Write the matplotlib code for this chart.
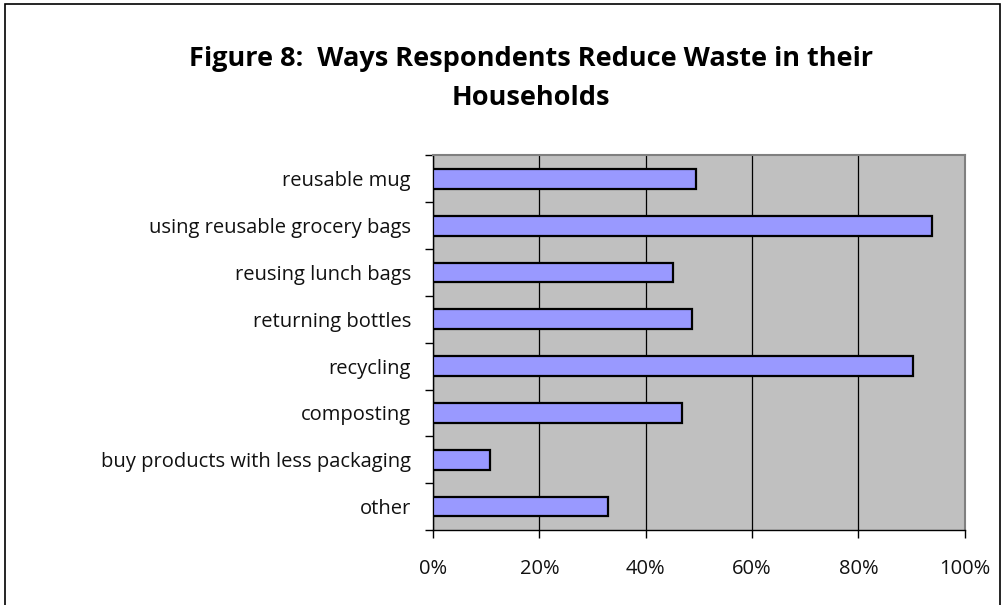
import matplotlib.pyplot as plt
from matplotlib.patches import Rectangle
from matplotlib.ticker import FixedLocator, PercentFormatter

categories = [
    "reusable mug",
    "using reusable grocery bags",
    "reusing lunch bags",
    "returning bottles",
    "recycling",
    "composting",
    "buy products with less packaging",
    "other",
]
shares = [0.495, 0.938, 0.452, 0.487, 0.902, 0.468, 0.107, 0.329]
x_ticks = [0, 0.2, 0.4, 0.6, 0.8, 1.0]

plt.rcParams['font.family'] = ['Open Sans', 'DejaVu Sans']

fig = plt.figure(figsize=(10.05, 6.05), dpi=100)
# outer chart border
fig.add_artist(Rectangle((0.005, -0.01), 0.99, 1.003, transform=fig.transFigure,
                         fill=False, edgecolor='black', linewidth=1.2))

ax = fig.add_axes([0.431, 0.124, 0.529, 0.619])
ax.set_facecolor('#C0C0C0')

pos = list(range(len(categories)))
ax.barh(pos, shares, height=0.42, color='#9999FF', edgecolor='black', linewidth=1.6, zorder=3)

ax.set_xlim(0, 1)
ax.set_ylim(len(categories) - 0.5, -0.5)
ax.set_xticks(x_ticks)
ax.xaxis.set_major_formatter(PercentFormatter(1.0, decimals=0))
ax.grid(axis='x', color='black', linewidth=0.9, zorder=1)

# category labels at centres, tick marks at the boundaries
ax.set_yticks(pos)
ax.set_yticklabels(categories)
ax.tick_params(axis='y', length=0, pad=16, labelsize=14.5, labelcolor='#111111')
ax.yaxis.set_minor_locator(FixedLocator([p + 0.5 for p in pos] + [-0.5]))
ax.tick_params(axis='y', which='minor', length=6, width=1, direction='out')
ax.tick_params(axis='x', length=6, width=1, direction='out', pad=15, labelsize=14.5,
               labelcolor='#111111')

for side in ['top', 'right']:
    ax.spines[side].set_color('#808080')
    ax.spines[side].set_linewidth(1.5)
for side in ['left', 'bottom']:
    ax.spines[side].set_color('black')
    ax.spines[side].set_linewidth(1)

fig.text(0.528, 0.871, "Figure 8:  Ways Respondents Reduce Waste in their\nHouseholds",
         ha='center', va='center', fontsize=19.5, fontweight='bold', linespacing=1.65)

plt.savefig('out.png', dpi=100)
plt.close()
